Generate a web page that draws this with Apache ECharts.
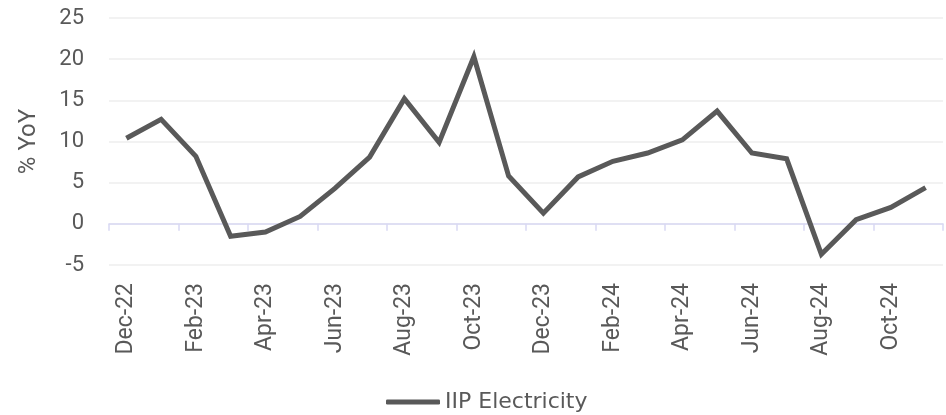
<!DOCTYPE html>
<html>
<head>
<meta charset="utf-8">
<script src="https://cdn.jsdelivr.net/npm/echarts@6/dist/echarts.min.js"></script>
<style>
  html, body { margin: 0; padding: 0; background: #fff; }
  #chart { width: 946px; height: 415px; }
</style>
</head>
<body>
<div id="chart"></div>
<script>
// Monthly categories, Dec-22 to Nov-24
const months = [
  'Dec-22', 'Jan-23', 'Feb-23', 'Mar-23', 'Apr-23', 'May-23', 'Jun-23', 'Jul-23',
  'Aug-23', 'Sep-23', 'Oct-23', 'Nov-23', 'Dec-23', 'Jan-24', 'Feb-24', 'Mar-24',
  'Apr-24', 'May-24', 'Jun-24', 'Jul-24', 'Aug-24', 'Sep-24', 'Oct-24', 'Nov-24'
];

// IIP Electricity, % YoY
const iipElectricity = [
  10.4, 12.7, 8.2, -1.5, -1.0, 0.9, 4.3, 8.1,
  15.2, 9.9, 20.3, 5.8, 1.3, 5.7, 7.6, 8.6,
  10.2, 13.7, 8.6, 7.9, -3.7, 0.5, 2.0, 4.4
];

const yTicks = { min: -5, max: 25, step: 5 };
const seriesName = 'IIP Electricity';
const yAxisTitle = '% YoY';

const textColor = '#595959';
const font = 'Roboto, "Liberation Sans", sans-serif';

const chart = echarts.init(document.getElementById('chart'), null, { renderer: 'canvas' });

chart.setOption({
  animation: false,
  backgroundColor: '#ffffff',
  grid: { left: 109, right: 3, top: 18, bottom: 150, containLabel: false },
  legend: {
    data: [{ name: seriesName, icon: 'roundRect' }],
    left: 381,
    top: 386,
    itemWidth: 54,
    itemHeight: 5,
    itemGap: 10,
    textStyle: { color: textColor, fontSize: 22, fontFamily: '"DejaVu Sans", sans-serif' },
    itemStyle: { color: '#595959' }
  },
  xAxis: {
    type: 'category',
    data: months,
    boundaryGap: true,
    axisLine: { onZero: true, lineStyle: { color: '#d9d9f3', width: 1.5 } },
    axisTick: { show: true, interval: 1, length: 7, lineStyle: { color: '#d9d9f3', width: 1.5 } },
    axisLabel: {
      interval: 1,
      rotate: 90,
      margin: 18,
      color: textColor,
      fontSize: 23,
      fontFamily: font
    },
    splitLine: { show: false }
  },
  yAxis: {
    type: 'value',
    min: yTicks.min,
    max: yTicks.max,
    interval: yTicks.step,
    name: yAxisTitle,
    nameLocation: 'middle',
    nameRotate: 90,
    nameGap: 68,
    nameTextStyle: { color: textColor, fontSize: 24, fontFamily: font },
    axisLine: { show: false },
    axisTick: { show: false },
    axisLabel: { color: textColor, fontSize: 22, fontFamily: font, margin: 25 },
    splitLine: { lineStyle: { color: '#eeeeee', width: 1.5 } }
  },
  series: [{
    name: seriesName,
    type: 'line',
    data: iipElectricity,
    showSymbol: false,
    symbol: 'none',
    lineStyle: { color: '#595959', width: 5, join: 'miter' },
    itemStyle: { color: '#595959' }
  }]
});
</script>
</body>
</html>
